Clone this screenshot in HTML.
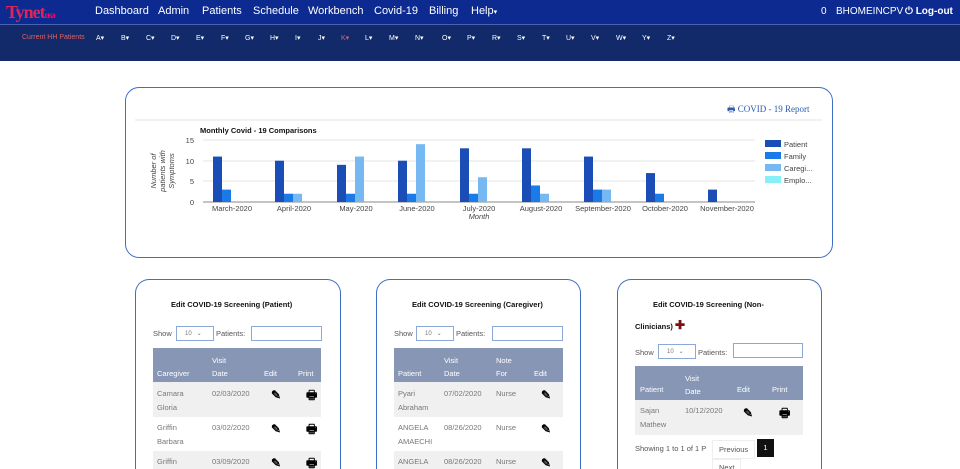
<!DOCTYPE html>
<html><head><meta charset="utf-8"><style>
*{margin:0;padding:0;box-sizing:border-box}
html,body{width:960px;height:469px;overflow:hidden}
body{background:#fff;font-family:"Liberation Sans",sans-serif}
#w{position:relative;width:960px;height:469px;overflow:hidden}
.a{position:absolute;white-space:nowrap}
.top{left:0;top:0;width:960px;height:24px;background:#0c2a90}
.nav{left:0;top:24px;width:960px;height:37px;background:#12296a;border-top:1px solid #4a63b0}
.m{color:#fff;font-size:11px;top:5px}
.l{color:#fff;font-size:7px;top:34px}
.panel{border:1.5px solid #3d6fc6;border-radius:14px;background:#fff}
.bp{border-bottom:none;border-radius:14px 14px 0 0;height:190px}
.t{font-size:7.5px;font-weight:bold;color:#111}
.s{font-size:7.5px;color:#555}
.th{background:#8896b5;color:#fff;font-size:7.5px}
.td{font-size:7.5px;color:#777;line-height:14px}
.inp{border:1px solid #8aa8d8;height:15px;background:#fff}
.ic{font-size:12px;font-weight:bold;color:#000;line-height:12px}
</style></head><body><div id="w">
<div class="a top"></div>
<div class="a nav"></div>
<div class="a" style="left:6px;top:2px;font-size:18px;font-weight:bold;color:#e0245a;font-family:'Liberation Serif',serif;letter-spacing:-1px">Tynet<span style="font-size:9px;color:#f06">usa</span></div>
<div class="a m" style="left:95px">Dashboard</div>
<div class="a m" style="left:158px">Admin</div>
<div class="a m" style="left:202px">Patients</div>
<div class="a m" style="left:253px">Schedule</div>
<div class="a m" style="left:308px">Workbench</div>
<div class="a m" style="left:374px">Covid-19</div>
<div class="a m" style="left:429px">Billing</div>
<div class="a m" style="left:471px">Help<span style="font-size:7px">▾</span></div>
<div class="a m" style="left:821px;font-size:10px;top:6px">0</div>
<div class="a m" style="left:836px;font-size:10px;top:6px">BHOMEINCPV</div>
<div class="a m" style="left:905px;font-weight:bold;font-size:10px;top:6px">⏻ Log-out</div>
<div class="a l" style="left:22px;color:#e06060">Current HH Patients</div>
<div class="a l" style="left:96px">A▾</div><div class="a l" style="left:121px">B▾</div><div class="a l" style="left:146px">C▾</div><div class="a l" style="left:171px">D▾</div><div class="a l" style="left:196px">E▾</div><div class="a l" style="left:221px">F▾</div><div class="a l" style="left:245px">G▾</div><div class="a l" style="left:270px">H▾</div><div class="a l" style="left:295px">I▾</div><div class="a l" style="left:318px">J▾</div><div class="a l" style="left:341px;color:#e06060">K▾</div><div class="a l" style="left:365px">L▾</div><div class="a l" style="left:389px">M▾</div><div class="a l" style="left:415px">N▾</div><div class="a l" style="left:442px">O▾</div><div class="a l" style="left:467px">P▾</div><div class="a l" style="left:492px">R▾</div><div class="a l" style="left:517px">S▾</div><div class="a l" style="left:542px">T▾</div><div class="a l" style="left:566px">U▾</div><div class="a l" style="left:591px">V▾</div><div class="a l" style="left:616px">W▾</div><div class="a l" style="left:642px">Y▾</div><div class="a l" style="left:667px">Z▾</div>

<div class="a panel" style="left:125px;top:87px;width:708px;height:171px"></div>
<svg class="a" style="left:0;top:0" width="960" height="469" font-family="Liberation Sans, sans-serif">
<text x="727" y="112" font-size="9" fill="#2a5db0" font-family="Liberation Serif, serif">🖶 COVID - 19 Report</text>
<line x1="135" y1="120" x2="822" y2="120" stroke="#e6e6e6"/>
<text x="200" y="133" font-size="7.5" font-weight="bold" fill="#111">Monthly Covid - 19 Comparisons</text>
<g stroke="#e4e4e4"><line x1="203" y1="140" x2="755" y2="140"/><line x1="203" y1="161" x2="755" y2="161"/><line x1="203" y1="181" x2="755" y2="181"/></g>
<line x1="203" y1="202" x2="755" y2="202" stroke="#888"/>
<g font-size="7.5" fill="#444" text-anchor="end"><text x="194" y="143">15</text><text x="194" y="164">10</text><text x="194" y="184">5</text><text x="194" y="205">0</text></g>
<g font-size="7.5" fill="#444" font-style="italic" text-anchor="middle" transform="translate(164,171) rotate(-90)"><text y="-8">Number of</text><text y="1">patients with</text><text y="10">Symptoms</text></g>
<g id="bars"></g>
<g font-size="7.5" fill="#444" text-anchor="middle">
<text x="232" y="211">March-2020</text><text x="294" y="211">April-2020</text><text x="356" y="211">May-2020</text><text x="417" y="211">June-2020</text><text x="479" y="211">July-2020</text><text x="541" y="211">August-2020</text><text x="603" y="211">September-2020</text><text x="665" y="211">October-2020</text><text x="727" y="211">November-2020</text>
<text x="479" y="219" font-style="italic">Month</text></g>
<g font-size="7.5" fill="#444">
<rect x="765" y="140" width="16" height="7" fill="#1a4db5"/><text x="784" y="147">Patient</text>
<rect x="765" y="152" width="16" height="7" fill="#1a7ae8"/><text x="784" y="159">Family</text>
<rect x="765" y="164" width="16" height="7" fill="#76b8f2"/><text x="784" y="171">Caregi...</text>
<rect x="765" y="176" width="16" height="7" fill="#86f0f6"/><text x="784" y="183">Emplo...</text></g>
</svg>

<div class="a panel bp" style="left:135px;top:279px;width:206px"></div>
<div class="a t" style="left:171px;top:300px">Edit COVID-19 Screening (Patient)</div>
<div class="a s" style="left:153px;top:329px">Show</div>
<div class="a inp" style="left:176px;top:326px;width:38px;font-size:6px;color:#777;padding:3px 8px">10 &nbsp;&nbsp;⌄</div>
<div class="a s" style="left:216px;top:329px">Patients:</div>
<div class="a inp" style="left:251px;top:326px;width:71px"></div>
<div class="a th" style="left:153px;top:348px;width:168px;height:34px"></div>
<div class="a th" style="left:157px;top:369px;background:none">Caregiver</div>
<div class="a th" style="left:212px;top:354px;background:none;line-height:13px">Visit<br>Date</div>
<div class="a th" style="left:264px;top:369px;background:none">Edit</div>
<div class="a th" style="left:298px;top:369px;background:none">Print</div>
<div class="a" style="left:153px;top:382px;width:168px;height:35px;background:#f0f0f0"></div>
<div class="a" style="left:153px;top:451px;width:168px;height:18px;background:#f0f0f0"></div>
<div class="a td" style="left:157px;top:387px">Camara<br>Gloria</div><div class="a td" style="left:212px;top:387px">02/03/2020</div>
<div class="a td" style="left:157px;top:421px">Griffin<br>Barbara</div><div class="a td" style="left:212px;top:421px">03/02/2020</div>
<div class="a td" style="left:157px;top:455px">Griffin</div><div class="a td" style="left:212px;top:455px">03/09/2020</div>
<div class="a ic" style="left:271px;top:389px">✎</div><div class="a ic" style="left:306px;top:389px">🖶</div>
<div class="a ic" style="left:271px;top:423px">✎</div><div class="a ic" style="left:306px;top:423px">🖶</div>
<div class="a ic" style="left:271px;top:457px">✎</div><div class="a ic" style="left:306px;top:457px">🖶</div>

<div class="a panel bp" style="left:376px;top:279px;width:205px"></div>
<div class="a t" style="left:412px;top:300px">Edit COVID-19 Screening (Caregiver)</div>
<div class="a s" style="left:394px;top:329px">Show</div>
<div class="a inp" style="left:416px;top:326px;width:38px;font-size:6px;color:#777;padding:3px 8px">10 &nbsp;&nbsp;⌄</div>
<div class="a s" style="left:456px;top:329px">Patients:</div>
<div class="a inp" style="left:492px;top:326px;width:71px"></div>
<div class="a th" style="left:394px;top:348px;width:169px;height:34px"></div>
<div class="a th" style="left:398px;top:369px;background:none">Patient</div>
<div class="a th" style="left:444px;top:354px;background:none;line-height:13px">Visit<br>Date</div>
<div class="a th" style="left:496px;top:354px;background:none;line-height:13px">Note<br>For</div>
<div class="a th" style="left:534px;top:369px;background:none">Edit</div>
<div class="a" style="left:394px;top:382px;width:169px;height:35px;background:#f0f0f0"></div>
<div class="a" style="left:394px;top:451px;width:169px;height:18px;background:#f0f0f0"></div>
<div class="a td" style="left:398px;top:387px">Pyari<br>Abraham</div><div class="a td" style="left:444px;top:387px">07/02/2020</div><div class="a td" style="left:496px;top:387px">Nurse</div>
<div class="a td" style="left:398px;top:421px">ANGELA<br>AMAECHI</div><div class="a td" style="left:444px;top:421px">08/26/2020</div><div class="a td" style="left:496px;top:421px">Nurse</div>
<div class="a td" style="left:398px;top:455px">ANGELA</div><div class="a td" style="left:444px;top:455px">08/26/2020</div><div class="a td" style="left:496px;top:455px">Nurse</div>
<div class="a ic" style="left:541px;top:389px">✎</div><div class="a ic" style="left:541px;top:423px">✎</div><div class="a ic" style="left:541px;top:457px">✎</div>

<div class="a panel bp" style="left:617px;top:279px;width:205px"></div>
<div class="a t" style="left:653px;top:300px">Edit COVID-19 Screening (Non-</div>
<div class="a t" style="left:635px;top:318px">Clinicians) <span style="color:#7a1010;font-size:12px">✚</span></div>
<div class="a s" style="left:635px;top:348px">Show</div>
<div class="a inp" style="left:658px;top:344px;width:38px;font-size:6px;color:#777;padding:3px 8px">10 &nbsp;&nbsp;⌄</div>
<div class="a s" style="left:698px;top:348px">Patients:</div>
<div class="a inp" style="left:733px;top:343px;width:70px"></div>
<div class="a th" style="left:635px;top:366px;width:168px;height:34px"></div>
<div class="a th" style="left:640px;top:385px;background:none">Patient</div>
<div class="a th" style="left:685px;top:372px;background:none;line-height:13px">Visit<br>Date</div>
<div class="a th" style="left:737px;top:385px;background:none">Edit</div>
<div class="a th" style="left:772px;top:385px;background:none">Print</div>
<div class="a" style="left:635px;top:400px;width:168px;height:35px;background:#f0f0f0"></div>
<div class="a td" style="left:640px;top:404px">Sajan<br>Mathew</div><div class="a td" style="left:685px;top:404px">10/12/2020</div>
<div class="a ic" style="left:743px;top:407px">✎</div><div class="a ic" style="left:779px;top:407px">🖶</div>
<div class="a s" style="left:635px;top:444px">Showing 1 to 1 of 1 P</div>
<div class="a s" style="left:712px;top:440px;background:#fff;padding:4px 6px;border:1px solid #eee">Previous</div>
<div class="a" style="left:757px;top:439px;width:17px;height:18px;background:#111;color:#fff;font-size:7.5px;text-align:center;line-height:18px">1</div>
<div class="a s" style="left:712px;top:459px;height:10px;overflow:hidden;background:#fff;padding:3px 6px 0;border:1px solid #eee;border-bottom:none;line-height:9px">Next</div>

<script>
var P=[11,10,9,10,13,13,11,7,3],F=[3,2,2,2,2,4,3,2,0],C=[0,2,11,14,6,2,3,0,0];
var cx=[232,294,356,417,479,541,603,665,727],g=document.getElementById('bars'),s='';
function r(x,v,c){if(v>0){var h=v*4.13;s+='<rect x="'+x+'" y="'+(202-h)+'" width="9" height="'+h+'" fill="'+c+'"/>';}}
for(var i=0;i<9;i++){var x=cx[i]-19;r(x,P[i],'#1a4db5');r(x+9,F[i],'#1a7ae8');r(x+18,C[i],'#76b8f2');}
g.innerHTML=s;
</script>
</div></body></html>
